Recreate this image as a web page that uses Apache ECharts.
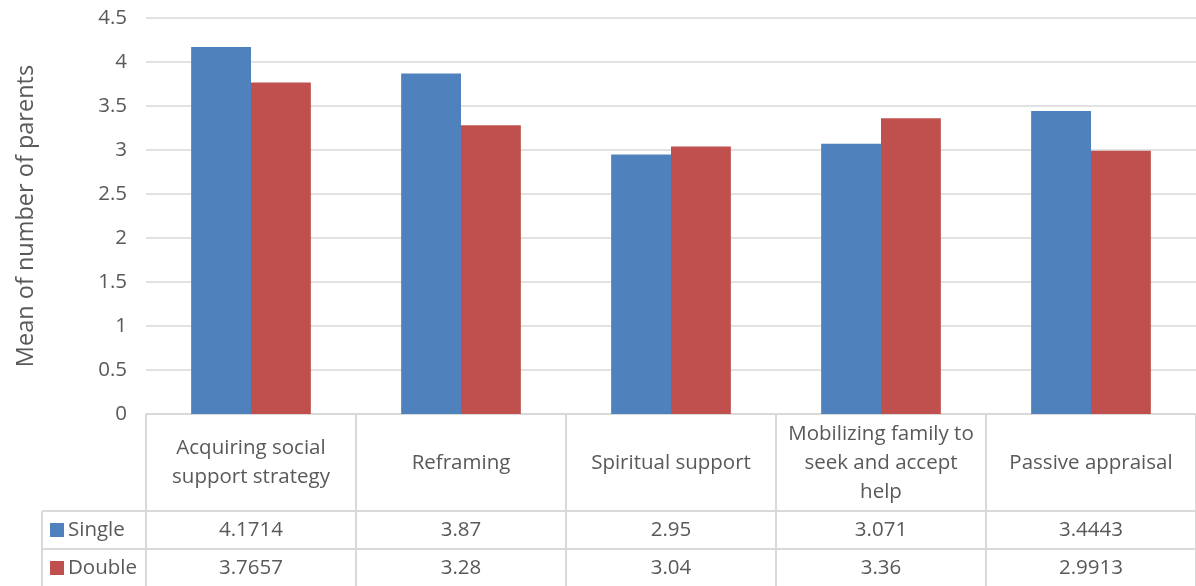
<!DOCTYPE html>
<html>
<head>
<meta charset="utf-8">
<title>Coping strategies of single and double parents</title>
<script src="https://cdn.jsdelivr.net/npm/echarts@6/dist/echarts.min.js"></script>
<style>
  html, body { margin: 0; padding: 0; background: #ffffff; }
  #chart { width: 1196px; height: 586px; }
</style>
</head>
<body>
<div id="chart"></div>
<script>
// Coping strategy categories (line breaks as shown in the table header)
const categories = [
  'Acquiring social\nsupport strategy',
  'Reframing',
  'Spiritual support',
  'Mobilizing family to\nseek and accept\nhelp',
  'Passive appraisal'
];
const seriesNames = ['Single', 'Double'];
const singleValues = [4.1714, 3.87, 2.95, 3.071, 3.4443];
const doubleValues = [3.7657, 3.28, 3.04, 3.36, 2.9913];
const seriesColors = ['#4f81bd', '#c0504d'];
const yMin = 0, yMax = 4.5, yInterval = 0.5;

const FONT = '"Open Sans", Lato, sans-serif';
const TEXT = '#595959';
const RULE = '#d9d9d9';
const FS = 20.5;

const chart = echarts.init(document.getElementById('chart'), null, { renderer: 'canvas' });

const option = {
  animation: false,
  backgroundColor: '#ffffff',
  textStyle: { fontFamily: FONT, color: TEXT },
  grid: { left: 146, top: 18, width: 1058, height: 396, containLabel: false },
  xAxis: {
    type: 'category',
    data: categories,
    boundaryGap: true,
    axisLine: { show: true, lineStyle: { color: RULE, width: 2 } },
    axisTick: { show: true, length: 200, lineStyle: { color: RULE, width: 2 } },
    axisLabel: {
      interval: 0,
      margin: 49,
      verticalAlign: 'middle',
      align: 'center',
      fontFamily: FONT,
      fontSize: FS,
      lineHeight: 29,
      color: TEXT
    }
  },
  yAxis: {
    type: 'value',
    min: yMin,
    max: yMax,
    interval: yInterval,
    name: 'Mean of number of parents',
    nameLocation: 'middle',
    nameRotate: 90,
    nameGap: 108,
    nameTextStyle: { fontFamily: FONT, fontSize: 23.5, color: TEXT },
    axisLine: { show: false },
    axisTick: { show: false },
    axisLabel: { margin: 19, fontFamily: FONT, fontSize: FS, color: TEXT },
    splitLine: { lineStyle: { color: RULE, width: 1.5 } }
  },
  series: [
    {
      name: seriesNames[0],
      type: 'bar',
      data: singleValues,
      itemStyle: { color: seriesColors[0] },
      barGap: '0%',
      barCategoryGap: '43%'
    },
    {
      name: seriesNames[1],
      type: 'bar',
      data: doubleValues,
      itemStyle: { color: seriesColors[1] },
      barGap: '0%',
      barCategoryGap: '43%'
    }
  ]
};

chart.setOption(option);

// Data table under the axis: rows of values placed at the category positions
const centers = categories.map((c, i) => chart.convertToPixel({ xAxisIndex: 0 }, i));
const colW = centers[1] - centers[0];
const axisY = chart.convertToPixel({ yAxisIndex: 0 }, yMin);
const headerBottom = axisY + 97;
const rowH = 38;
const tableLeft = 42;
const tableRight = centers[centers.length - 1] + colW / 2;
const rows = [singleValues, doubleValues];

const elements = [];
// horizontal rules of the data rows
for (let r = 0; r < rows.length; r++) {
  const y = headerBottom + r * rowH;
  elements.push({
    type: 'line',
    shape: { x1: tableLeft, y1: y, x2: tableRight, y2: y },
    style: { stroke: RULE, lineWidth: 2 }
  });
}
// left edge of the legend column
elements.push({
  type: 'line',
  shape: { x1: tableLeft, y1: headerBottom, x2: tableLeft, y2: headerBottom + rows.length * rowH + 10 },
  style: { stroke: RULE, lineWidth: 2 }
});

rows.forEach((vals, r) => {
  const cy = headerBottom + r * rowH + rowH / 2;
  // legend key and series name
  elements.push({
    type: 'rect',
    shape: { x: 50, y: cy - 7, width: 14, height: 14 },
    style: { fill: seriesColors[r] }
  });
  elements.push({
    type: 'text',
    x: 68, y: cy,
    style: {
      text: seriesNames[r], fill: TEXT, fontFamily: FONT, fontSize: FS,
      textAlign: 'left', textVerticalAlign: 'middle'
    }
  });
  vals.forEach((v, i) => {
    elements.push({
      type: 'text',
      x: centers[i], y: cy,
      style: {
        text: String(v), fill: TEXT, fontFamily: FONT, fontSize: FS,
        textAlign: 'center', textVerticalAlign: 'middle'
      }
    });
  });
});

chart.setOption({ graphic: { elements: elements } });
</script>
</body>
</html>
